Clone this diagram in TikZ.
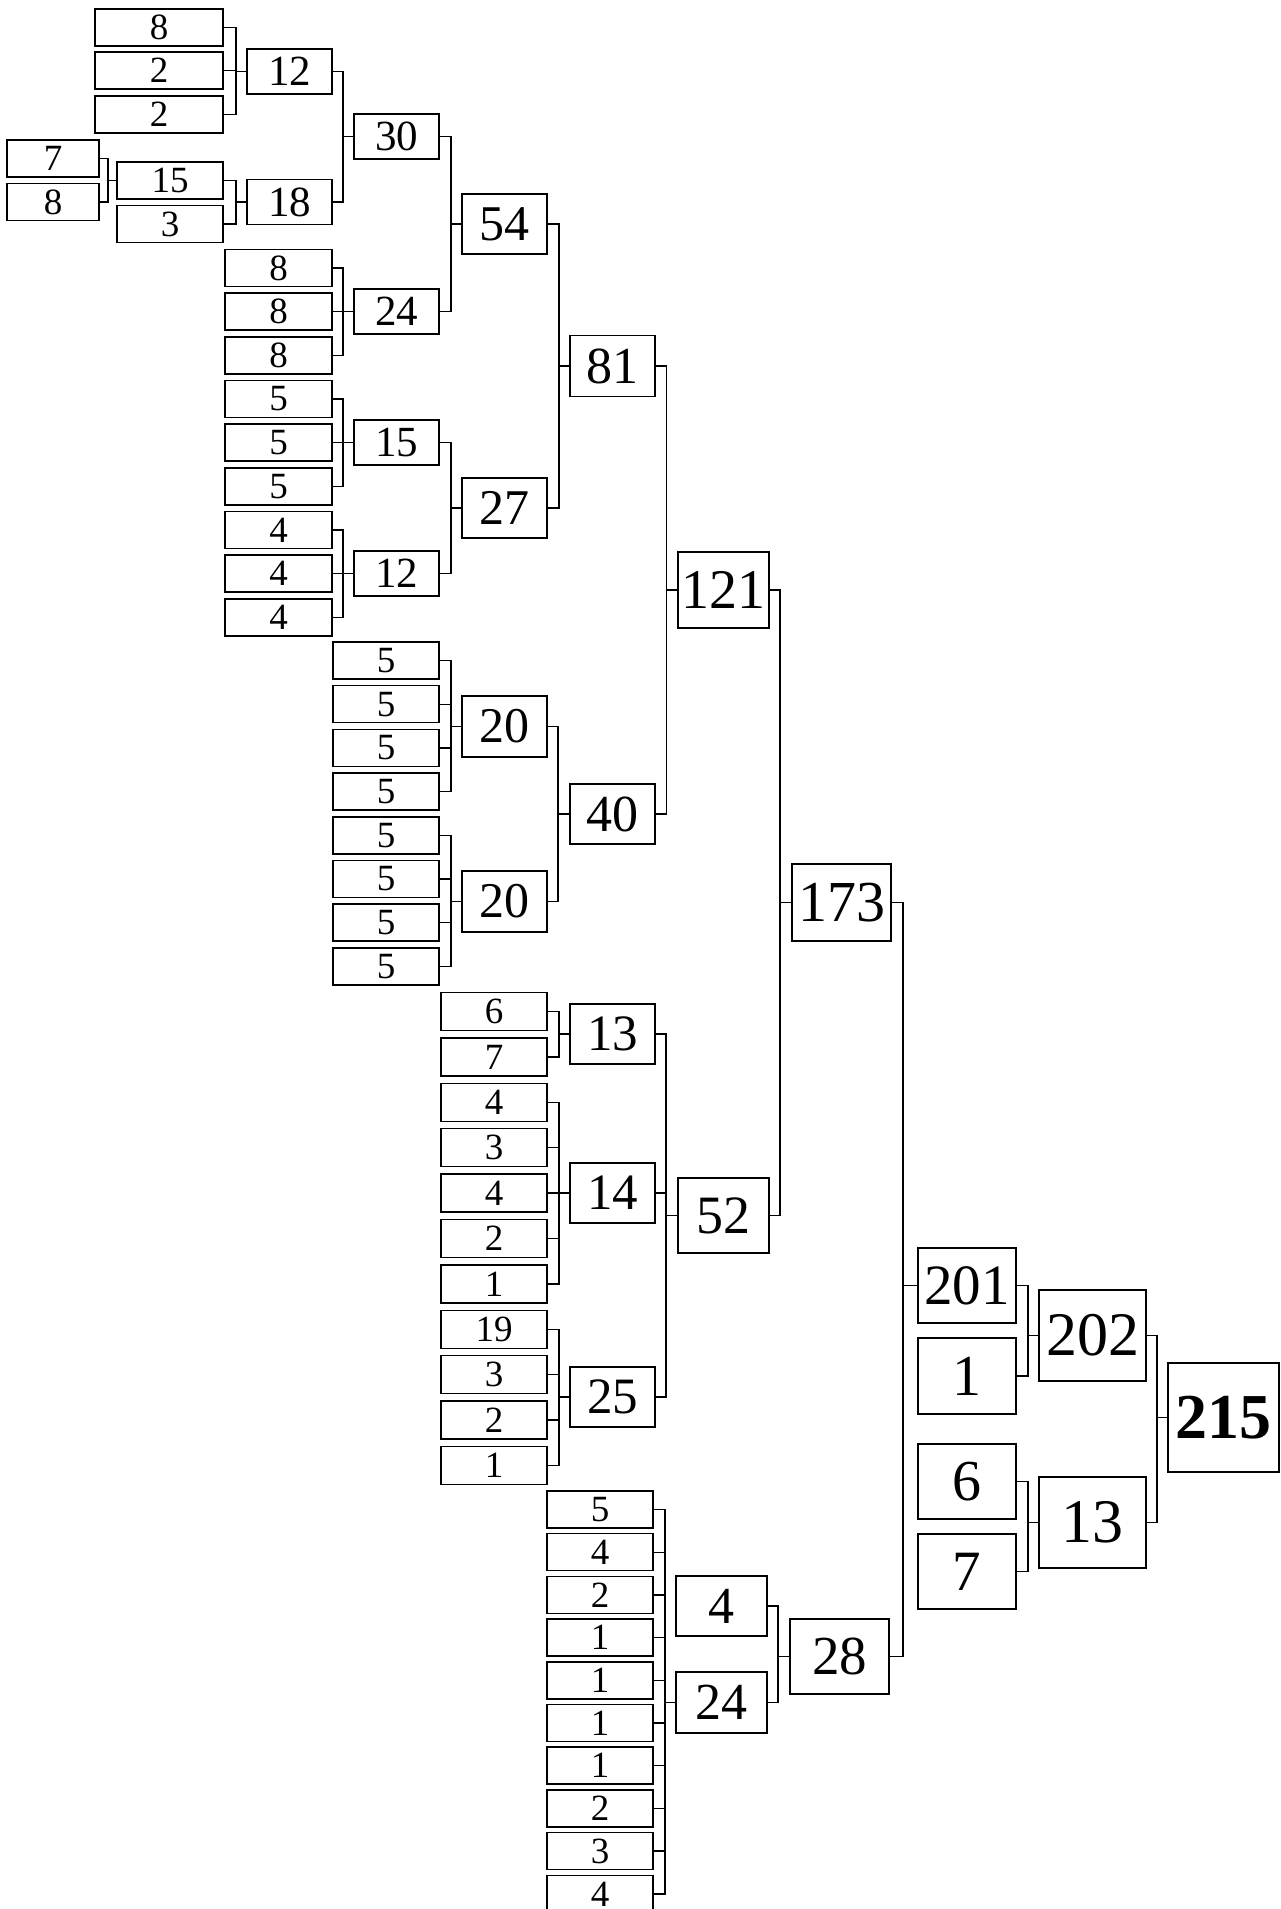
\documentclass[tikz,border=0pt]{standalone}
\usepackage{fontspec}
\setmainfont{Liberation Serif}
\begin{document}
\begin{tikzpicture}[x=1pt,y=-1pt,
  bx/.style={draw, line width=1.5pt, inner sep=0pt, anchor=center},
  sz/.style n args={3}{bx, minimum width=#1pt, minimum height=#2pt, font=\fontsize{#3}{#3}\selectfont},
  cn/.style={line width=1.4pt}]
\useasboundingbox (0,0) rectangle (1281,1909);
\clip (0,0) rectangle (1281,1909);
% top-left group
\node[sz={128}{37}{37}] (a1) at (159,27.5) {8};
\node[sz={128}{37}{37}] (a2) at (159,70.5) {2};
\node[sz={128}{37}{37}] (a3) at (159,114.5) {2};
\node[sz={85}{45}{43}] (b12) at (289.5,71.5) {12};
\node[sz={92}{37}{37}] (a4) at (53,158.5) {7};
\node[sz={92}{37}{37}] (a5) at (53,202) {8};
\node[sz={106}{37}{37}] (b15) at (170,180.5) {15};
\node[sz={106}{37}{37}] (a6) at (170,224) {3};
\node[sz={85}{45}{43}] (b18) at (289.5,202) {18};
\node[sz={85}{45}{43}] (c30) at (396.5,136.5) {30};
% column A leaves
\foreach \t [count=\i] in {8,8,8,5,5,5,4,4,4}
  \node[sz={107}{37}{37}] (la\i) at (278.5,{268+43.67*(\i-1)}) {\t};
\node[sz={85}{45}{43}] (c24) at (396.5,311.5) {24};
\node[sz={85}{45}{43}] (c15) at (396.5,442.5) {15};
\node[sz={85}{45}{43}] (c12) at (396.5,573.5) {12};
\node[sz={85}{60}{50}] (d54) at (504.5,224) {54};
\node[sz={85}{60}{50}] (d27) at (504.5,508) {27};
\node[sz={85}{61}{52}] (e81) at (612.5,366) {81};
\node[sz={91}{76}{56}] (f121) at (723.5,590) {121};
% column B leaves
\foreach \t [count=\i] in {5,5,5,5,5,5,5,5}
  \node[sz={106}{37}{37}] (lb\i) at (386,{660.5+43.7*(\i-1)}) {\t};
\node[sz={85}{61}{50}] (d20a) at (504.5,726.5) {20};
\node[sz={85}{61}{50}] (d20b) at (504.5,901.5) {20};
\node[sz={85}{60}{52}] (e40) at (612.5,814) {40};
% column C leaves
\foreach \t [count=\i] in {6,7,4,3,4,2,1,19,3,2,1}
  \node[sz={106}{38}{37}] (lc\i) at (494,{1011.5+45.4*(\i-1)}) {\t};
\node[sz={85}{60}{51}] (e13) at (612.5,1034) {13};
\node[sz={85}{60}{51}] (e14) at (612.5,1193) {14};
\node[sz={85}{60}{51}] (e25) at (612.5,1397) {25};
\node[sz={91}{75}{54}] (f52) at (723.5,1215.5) {52};
\node[sz={99}{77}{58}] (g173) at (841.5,902.5) {173};
% column D leaves
\foreach \t [count=\i] in {5,4,2,1,1,1,1,2,3,4}
  \node[sz={106}{37}{37}] (ld\i) at (600,{1509.5+42.7*(\i-1)}) {\t};
\node[sz={91}{60}{52}] (f4) at (721.5,1606) {4};
\node[sz={91}{61}{52}] (f24) at (721.5,1702.5) {24};
\node[sz={99}{75}{55}] (g28) at (839.5,1656.5) {28};
% right group
\node[sz={98}{75}{57}] (h201) at (967,1285.5) {201};
\node[sz={98}{76}{58}] (h1) at (967,1376) {1};
\node[sz={98}{75}{58}] (h6) at (967,1481.5) {6};
\node[sz={98}{75}{57}] (h7) at (967,1571.5) {7};
\node[sz={107}{91}{62}] (i202) at (1092.5,1335.5) {202};
\node[sz={107}{91}{62}] (i13) at (1092.5,1522.5) {13};
\node[sz={111}{109}{64}] (j215) at (1223.5,1417.5) {\bfseries 215};
% junctions
\coordinate (jA) at (236,71.5);
\coordinate (jB) at (108,180.5);
\coordinate (jC) at (236,202);
\coordinate (jD) at (343,136.5);
\coordinate (jE) at (343,311.5);
\coordinate (jF) at (343,442.5);
\coordinate (jG) at (343,573.5);
\coordinate (jH) at (451,224);
\coordinate (jI) at (451,508);
\coordinate (jJ) at (559,366);
\coordinate (jK) at (451,726.5);
\coordinate (jL) at (451,901.5);
\coordinate (jM) at (558,814);
\coordinate (jN) at (666.5,590);
\coordinate (jO) at (559,1034);
\coordinate (jP) at (559,1193);
\coordinate (jQ) at (559,1397);
\coordinate (jR) at (666,1215.5);
\coordinate (jS) at (780,902.5);
\coordinate (jT) at (665,1702.5);
\coordinate (jU) at (778,1656.5);
\coordinate (jV) at (903,1285.5);
\coordinate (jW) at (1028,1335.5);
\coordinate (jX) at (1028,1522.5);
\coordinate (jY) at (1157,1417.5);
% child -> junction
\foreach \c/\j in {a1/jA,a2/jA,a3/jA,a4/jB,a5/jB,b15/jC,a6/jC,b12/jD,b18/jD,
  la1/jE,la2/jE,la3/jE,la4/jF,la5/jF,la6/jF,la7/jG,la8/jG,la9/jG,
  c30/jH,c24/jH,c15/jI,c12/jI,d54/jJ,d27/jJ,
  lb1/jK,lb2/jK,lb3/jK,lb4/jK,lb5/jL,lb6/jL,lb7/jL,lb8/jL,d20a/jM,d20b/jM,
  e81/jN,e40/jN,
  lc1/jO,lc2/jO,lc3/jP,lc4/jP,lc5/jP,lc6/jP,lc7/jP,lc8/jQ,lc9/jQ,lc10/jQ,lc11/jQ,
  e13/jR,e14/jR,e25/jR,f121/jS,f52/jS,
  ld1/jT,ld2/jT,ld3/jT,ld4/jT,ld5/jT,ld6/jT,ld7/jT,ld8/jT,ld9/jT,ld10/jT,
  f4/jU,f24/jU,g173/jV,g28/jV,h201/jW,h1/jW,h6/jX,h7/jX,i202/jY,i13/jY}
  \draw[cn] (\c.east) -| (\j);
% junction -> parent
\foreach \j/\p in {jA/b12,jB/b15,jC/b18,jD/c30,jE/c24,jF/c15,jG/c12,jH/d54,jI/d27,
  jJ/e81,jK/d20a,jL/d20b,jM/e40,jN/f121,jO/e13,jP/e14,jQ/e25,jR/f52,jS/g173,
  jT/f24,jU/g28,jV/h201,jW/i202,jX/i13,jY/j215}
  \draw[cn] (\j) -- (\p.west);
\end{tikzpicture}
\end{document}
